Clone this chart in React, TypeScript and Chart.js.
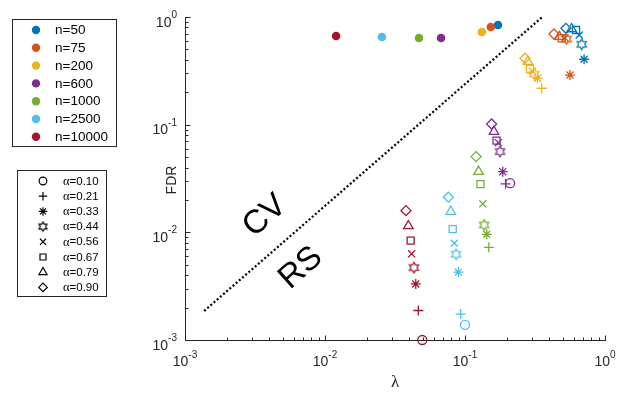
import React, { useEffect, useRef } from 'react';
import { Chart, registerables } from 'chart.js';
import { drawPoint } from 'chart.js/helpers';

Chart.register(...registerables);

// ---------- data ----------
const sampleSizes = ['n=50', 'n=75', 'n=200', 'n=600', 'n=1000', 'n=2500', 'n=10000'];
const colors = ['#0072BD', '#D95319', '#EDB120', '#7E2F8E', '#77AC30', '#4DBEEE', '#A2142F'];
const alphaLabels = ['0.10', '0.21', '0.33', '0.44', '0.56', '0.67', '0.79', '0.90'];
// marker per alpha: circle, plus, asterisk, hexagram, x, square, triangle, diamond
const markerNames = ['circle', 'cross', 'star', 'hexagram', 'crossRot', 'rect', 'triangle', 'rectRot'];
const markerRadii = [4.5, 5, 5, 0, 5, 5, 5.5, 5];

// CV-selected points (filled dots)
const cvLambda = [0.172, 0.153, 0.132, 0.0674, 0.0469, 0.0255, 0.012];
const cvFdr = [0.843, 0.807, 0.726, 0.638, 0.638, 0.652, 0.667];

// RS points, ordered by alpha (0.10 ... 0.90)
const lambdaN50 = [null, null, 0.709, 0.682, 0.655, 0.621, 0.578, 0.526];
const fdrN50 = [null, null, 0.405, 0.558, 0.681, 0.757, 0.774, 0.785];
const lambdaN75 = [null, null, 0.562, 0.532, 0.518, 0.491, 0.472, 0.432];
const fdrN75 = [null, null, 0.289, 0.625, 0.638, 0.634, 0.656, 0.695];
const lambdaN200 = [null, 0.353, 0.33, 0.313, 0.303, 0.291, 0.281, 0.268];
const fdrN200 = [null, 0.218, 0.27, 0.294, 0.315, 0.329, 0.385, 0.414];
const lambdaN600 = [0.21, 0.195, 0.186, 0.178, 0.173, 0.168, 0.161, 0.155];
const fdrN600 = [0.0286, 0.0282, 0.0366, 0.0562, 0.068, 0.071, 0.0861, 0.1015];
const lambdaN1000 = [null, 0.148, 0.143, 0.137, 0.134, 0.129, 0.125, 0.12];
const fdrN1000 = [null, 0.00726, 0.00959, 0.0117, 0.0184, 0.028, 0.0366, 0.0505];
const lambdaN2500 = [0.1, 0.0931, 0.0896, 0.0863, 0.0839, 0.0817, 0.0791, 0.076];
const fdrN2500 = [0.00138, 0.00174, 0.00427, 0.00626, 0.00792, 0.0107, 0.0156, 0.0212];
const lambdaN10000 = [0.0495, 0.0464, 0.0445, 0.0432, 0.0416, 0.0409, 0.0394, 0.0379];
const fdrN10000 = [0.001, 0.00188, 0.00332, 0.0047, 0.00631, 0.00837, 0.01146, 0.0159];

const rsLambda = [lambdaN50, lambdaN75, lambdaN200, lambdaN600, lambdaN1000, lambdaN2500, lambdaN10000];
const rsFdr = [fdrN50, fdrN75, fdrN200, fdrN600, fdrN1000, fdrN2500, fdrN10000];

// CV / RS boundary
const boundaryLambda = [0.00137, 0.353];
const boundaryFdr = [0.00186, 0.99];

const tickExponents = [-3, -2, -1, 0];

// ---------- helpers ----------
const FONT = '"Liberation Sans", Arial, Helvetica, sans-serif';
const SERIF = '"Liberation Serif", "Times New Roman", serif';
const INK = '#262626';

function makeHexagram(color: string, R = 5.3): HTMLCanvasElement {
  const size = 13;
  const c = document.createElement('canvas');
  c.width = size;
  c.height = size;
  const g = c.getContext('2d')!;
  const cx = size / 2, cy = size / 2, r = R / Math.sqrt(3);
  g.beginPath();
  for (let i = 0; i < 12; i++) {
    const a = -Math.PI / 2 + (i * Math.PI) / 6;
    const rad = i % 2 === 0 ? R : r;
    const px = cx + rad * Math.cos(a), py = cy + rad * Math.sin(a);
    if (i === 0) g.moveTo(px, py);
    else g.lineTo(px, py);
  }
  g.closePath();
  g.strokeStyle = color;
  g.lineWidth = 1.2;
  g.stroke();
  return c;
}

function markerStyle(k: number, color: string, R?: number): any {
  return markerNames[k] === 'hexagram' ? makeHexagram(color, R) : markerNames[k];
}

function drawPow(ctx: CanvasRenderingContext2D, exp: number, x: number, baseY: number, align: 'center' | 'right') {
  const e = String(exp);
  ctx.font = `14px ${FONT}`;
  const w1 = ctx.measureText('10').width;
  ctx.font = `10px ${FONT}`;
  const w2 = ctx.measureText(e).width;
  const total = w1 + w2;
  const x0 = align === 'center' ? x - total / 2 : x - total;
  ctx.textAlign = 'left';
  ctx.textBaseline = 'alphabetic';
  ctx.fillStyle = INK;
  ctx.font = `14px ${FONT}`;
  ctx.fillText('10', x0, baseY);
  ctx.font = `10px ${FONT}`;
  ctx.fillText(e, x0 + w1, baseY - 8.5);
}

const decorPlugin = {
  id: 'decor',
  beforeDatasetsDraw(chart: any) {
    const ctx: CanvasRenderingContext2D = chart.ctx;
    const xs = chart.scales.x, ys = chart.scales.y;
    const { left, right, top, bottom } = chart.chartArea;
    ctx.save();
    ctx.strokeStyle = INK;
    ctx.lineWidth = 1;
    const L = Math.round(left) + 0.5;
    const B = Math.round(bottom) + 0.5;
    ctx.beginPath();
    ctx.moveTo(L, Math.round(top));
    ctx.lineTo(L, B);
    ctx.lineTo(Math.round(right) + 1, B);
    ctx.stroke();
    // ticks
    for (let d = -3; d <= 0; d++) {
      for (let k = 1; k <= (d < 0 ? 9 : 1); k++) {
        const v = k * Math.pow(10, d);
        const len = k === 1 ? 5 : 3;
        const px = Math.round(xs.getPixelForValue(v)) + 0.5;
        const py = Math.round(ys.getPixelForValue(v)) + 0.5;
        ctx.beginPath();
        ctx.moveTo(px, B);
        ctx.lineTo(px, B - len);
        ctx.moveTo(L, py);
        ctx.lineTo(L + len, py);
        ctx.stroke();
      }
    }
    ctx.restore();
  },
  afterDraw(chart: any) {
    const ctx: CanvasRenderingContext2D = chart.ctx;
    const xs = chart.scales.x, ys = chart.scales.y;
    ctx.save();
    // tick labels
    tickExponents.forEach((e) => {
      const v = Math.pow(10, e);
      drawPow(ctx, e, xs.getPixelForValue(v), 366, 'center');
      drawPow(ctx, e, 177, ys.getPixelForValue(v) + 9.5, 'right');
    });
    // axis titles
    ctx.fillStyle = INK;
    ctx.font = `17px ${SERIF}`;
    ctx.textAlign = 'center';
    ctx.textBaseline = 'middle';
    ctx.fillText('λ', 395, 383);
    ctx.save();
    ctx.translate(172, 180);
    ctx.rotate(-Math.PI / 2);
    ctx.font = `14px ${FONT}`;
    ctx.fillText('FDR', 0, 0);
    ctx.restore();
    // CV / RS region labels
    ctx.fillStyle = '#000';
    ctx.font = `33px ${FONT}`;
    [['CV', 265, 216], ['RS', 301, 268]].forEach(([t, x, y]) => {
      ctx.save();
      ctx.translate(x as number, y as number);
      ctx.rotate((-42 * Math.PI) / 180);
      ctx.fillText(t as string, 0, 0);
      ctx.restore();
    });
    // legend 1: sample sizes
    ctx.fillStyle = '#fff';
    ctx.strokeStyle = INK;
    ctx.lineWidth = 1;
    ctx.fillRect(12.5, 19.5, 104, 127);
    ctx.strokeRect(12.5, 19.5, 104, 127);
    sampleSizes.forEach((lab, i) => {
      const y = 30 + i * 17.8;
      ctx.fillStyle = colors[i];
      ctx.beginPath();
      ctx.arc(36, y, 4.2, 0, Math.PI * 2);
      ctx.fill();
      ctx.fillStyle = '#000';
      ctx.font = `13.5px ${FONT}`;
      ctx.textAlign = 'left';
      ctx.textBaseline = 'middle';
      ctx.fillText(lab, 55, y + 0.5);
    });
    // legend 2: alpha
    ctx.fillStyle = '#fff';
    ctx.strokeStyle = INK;
    ctx.fillRect(17.5, 170.5, 89, 126);
    ctx.strokeRect(17.5, 170.5, 89, 126);
    alphaLabels.forEach((lab, k) => {
      const y = 181 + k * 15.2;
      ctx.strokeStyle = '#000';
      ctx.fillStyle = 'rgba(0,0,0,0)';
      ctx.lineWidth = 1.2;
      const r = markerRadii[k] || 5;
      drawPoint(ctx, { pointStyle: markerStyle(k, '#000', 4.6), rotation: 0, radius: r * 0.85, borderWidth: 1.2 } as any, 43, y);
      ctx.fillStyle = '#000';
      ctx.textAlign = 'left';
      ctx.textBaseline = 'middle';
      ctx.font = `12.5px ${SERIF}`;
      ctx.fillText('α', 63, y + 0.5);
      const wa = ctx.measureText('α').width;
      ctx.font = `11.5px ${FONT}`;
      ctx.fillText('=' + lab, 63 + wa, y + 0.5);
    });
    ctx.restore();
  },
};

export default function App() {
  const ref = useRef<HTMLCanvasElement | null>(null);
  useEffect(() => {
    document.body.style.margin = '0';
    const canvas = ref.current!;
    const rsDatasets = sampleSizes.map((label, i) => {
      const pts: any[] = [];
      const styles: any[] = [];
      const radii: number[] = [];
      rsLambda[i].forEach((lx, k) => {
        const fy = rsFdr[i][k];
        if (lx == null || fy == null) return;
        pts.push({ x: lx, y: fy });
        styles.push(markerStyle(k, colors[i]));
        radii.push(markerRadii[k] || 6);
      });
      return {
        type: 'scatter' as const,
        label,
        data: pts,
        pointStyle: styles,
        pointRadius: radii,
        pointBorderColor: colors[i],
        pointBackgroundColor: 'rgba(0,0,0,0)',
        pointBorderWidth: 1.3,
        clip: false as any,
      };
    });
    const chart = new Chart(canvas, {
      type: 'scatter',
      data: {
        datasets: [
          {
            type: 'line',
            label: 'boundary',
            data: boundaryLambda.map((x, i) => ({ x, y: boundaryFdr[i] })),
            borderColor: '#000',
            borderWidth: 2.2,
            borderDash: [2, 2.2],
            pointRadius: 0,
            fill: false,
            tension: 0,
          } as any,
          ...rsDatasets,
          {
            type: 'scatter',
            label: 'CV',
            data: cvLambda.map((x, i) => ({ x, y: cvFdr[i] })),
            pointStyle: 'circle',
            pointRadius: 4.3,
            pointBorderWidth: 0,
            pointBackgroundColor: colors,
            pointBorderColor: colors,
            clip: false as any,
          } as any,
        ],
      },
      options: {
        responsive: false,
        animation: false,
        events: [],
        layout: { padding: { top: 17, right: 13, left: 0, bottom: 0 } },
        plugins: { legend: { display: false }, tooltip: { enabled: false } },
        scales: {
          x: {
            type: 'logarithmic',
            min: 0.001,
            max: 1,
            ticks: { display: false },
            grid: { display: false },
            border: { display: false },
            afterFit: (s: any) => {
              s.height = 53;
            },
          },
          y: {
            type: 'logarithmic',
            min: 0.001,
            max: 1,
            ticks: { display: false },
            grid: { display: false },
            border: { display: false },
            afterFit: (s: any) => {
              s.width = 185;
            },
          },
        },
      },
      plugins: [decorPlugin as any],
    });
    return () => chart.destroy();
  }, []);
  return (
    <div style={{ width: 618, height: 393, background: '#fff' }}>
      <canvas ref={ref} width={618} height={393} />
    </div>
  );
}
